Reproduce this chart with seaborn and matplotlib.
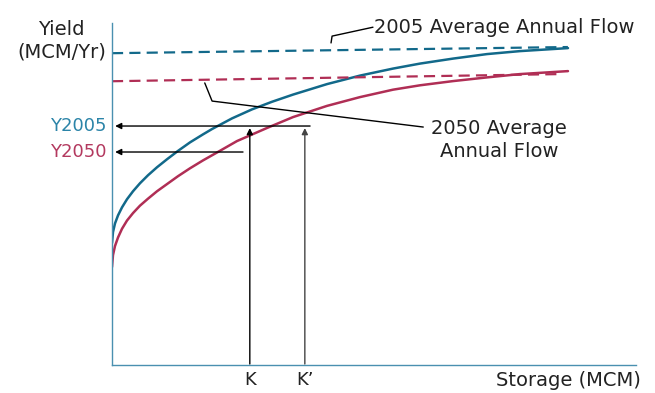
import pandas as pd
import matplotlib.pyplot as plt
import seaborn as sns

# Yield curves (storage, yield on a 0-100 scale)
storage_2005 = [0, 0.19, 0.57, 1.15, 1.91, 2.86, 4.01, 5.34, 6.87, 8.59, 10.50, 12.60, 14.89,
                17.37, 19.08, 22.90, 26.72, 30.53, 34.54, 41.03, 47.33, 53.63, 58.78, 65.08,
                71.56, 77.86, 87.02]
yield_2005 = [35.67, 38.89, 41.40, 43.77, 46.11, 48.48, 50.82, 53.16, 55.50, 57.84, 60.18, 62.63,
              65.12, 67.46, 69.01, 72.13, 74.77, 76.99, 79.09, 82.16, 84.65, 86.70, 88.16, 89.62,
              90.94, 91.81, 92.69]
storage_2050 = [0, 0.19, 0.57, 1.15, 1.91, 2.86, 4.01, 5.34, 6.87, 8.59, 10.50, 12.60, 14.89,
                17.37, 20.04, 23.85, 29.58, 34.54, 41.03, 47.33, 53.63, 58.78, 65.08, 71.56,
                77.86, 87.02]
yield_2050 = [28.65, 32.16, 34.80, 37.31, 39.85, 42.25, 44.44, 46.61, 48.65, 50.82, 52.92, 55.23,
              57.54, 59.85, 62.16, 65.50, 69.33, 72.51, 75.79, 78.36, 80.53, 81.81, 83.04, 84.12,
              85.09, 85.96]

# Average annual flow (dashed)
flow_x = [0, 87.0]
flow_2005 = [91.2, 93.0]
flow_x_2050 = [0, 85.9]
flow_2050 = [83.0, 85.1]

# Reference levels
k_values = [26.3, 36.8]
k_labels = ['K', 'K\u2019']
y_levels = [69.9, 62.3]
y_labels = ['Y2005', 'Y2050']

BLUE = '#12698a'
RED = '#b02e55'
BLUE_TXT = '#2b84a8'
RED_TXT = '#b3395f'
AXIS = '#4a90b0'

sns.set_style('white')
plt.rcParams['font.family'] = ['DejaVu Sans']

fig = plt.figure(figsize=(6.55, 3.93), dpi=100)
ax = fig.add_axes([0.171, 0.0712, 0.8, 0.870])

curves = pd.concat([
    pd.DataFrame({'Storage': storage_2005, 'Yield': yield_2005, 'Year': '2005'}),
    pd.DataFrame({'Storage': storage_2050, 'Yield': yield_2050, 'Year': '2050'}),
])
sns.lineplot(data=curves, x='Storage', y='Yield', hue='Year', palette=[BLUE, RED],
             linewidth=1.8, legend=False, ax=ax, sort=False)

flows = pd.concat([
    pd.DataFrame({'Storage': flow_x, 'Yield': flow_2005, 'Year': '2005'}),
    pd.DataFrame({'Storage': flow_x_2050, 'Yield': flow_2050, 'Year': '2050'}),
])
sns.lineplot(data=flows, x='Storage', y='Yield', hue='Year', palette=[BLUE, RED],
             linewidth=1.6, legend=False, ax=ax, sort=False)
for ln in ax.lines[2:]:
    ln.set_dashes((5, 2.8))
for ln in ax.lines[:2]:
    ln.set_solid_joinstyle('round')

ax.set_xlim(0, 100)
ax.set_ylim(0, 100)
ax.set_xticks([])
ax.set_yticks([])
ax.set_xlabel('')
ax.set_ylabel('')
for side in ['top', 'right']:
    ax.spines[side].set_visible(False)
for side in ['left', 'bottom']:
    ax.spines[side].set_color(AXIS)
    ax.spines[side].set_linewidth(1.0)

arrow = dict(arrowstyle='-|>', color='black', lw=1.0, mutation_scale=9, shrinkA=0, shrinkB=0)
fs = 14

# horizontal arrows to the yield axis
ax.annotate('', xy=(0.6, y_levels[0]), xytext=(k_values[1] + 1.0, y_levels[0]), arrowprops=arrow)
ax.annotate('', xy=(0.6, y_levels[1]), xytext=(k_values[0] - 1.3, y_levels[1]), arrowprops=arrow)
# vertical arrows from storage axis
ax.annotate('', xy=(k_values[0], y_levels[0] - 0.6), xytext=(k_values[0], 0.3), arrowprops=arrow)
arrow_g = dict(arrow, color='#444444')
ax.annotate('', xy=(k_values[1], y_levels[0] - 0.6), xytext=(k_values[1], 0.3), arrowprops=arrow_g)

for lab, yv, c in zip(y_labels, y_levels, [BLUE_TXT, RED_TXT]):
    ax.text(-1.0, yv, lab, color=c, fontsize=13, ha='right', va='center', clip_on=False)
for lab, xv in zip(k_labels, k_values):
    ax.text(xv, -4.4, lab, color='#222222', fontsize=13, ha='center', va='center', clip_on=False)

ax.text(101, -4.4, 'Storage (MCM)', color='#222222', fontsize=fs, ha='right', va='center', clip_on=False)
ax.text(-9.6, 94.9, 'Yield\n(MCM/Yr)', color='#222222', fontsize=fs, ha='center', va='center',
        multialignment='center', linespacing=1.2, clip_on=False)

# leader lines for the flow labels
ax.plot([41.8, 42.0, 49.8], [94.2, 96.2, 98.8], color='black', lw=1.0, clip_on=False)
ax.text(50.0, 98.8, '2005 Average Annual Flow', color='#222222', fontsize=fs,
        ha='left', va='center', clip_on=False)
ax.plot([17.7, 19.1, 59.4], [82.5, 77.2, 69.6], color='black', lw=1.0)
ax.text(73.9, 65.8, '2050 Average\nAnnual Flow', color='#222222', fontsize=fs,
        ha='center', va='center', multialignment='center', linespacing=1.25)

fig.savefig('out.png', dpi=100)
